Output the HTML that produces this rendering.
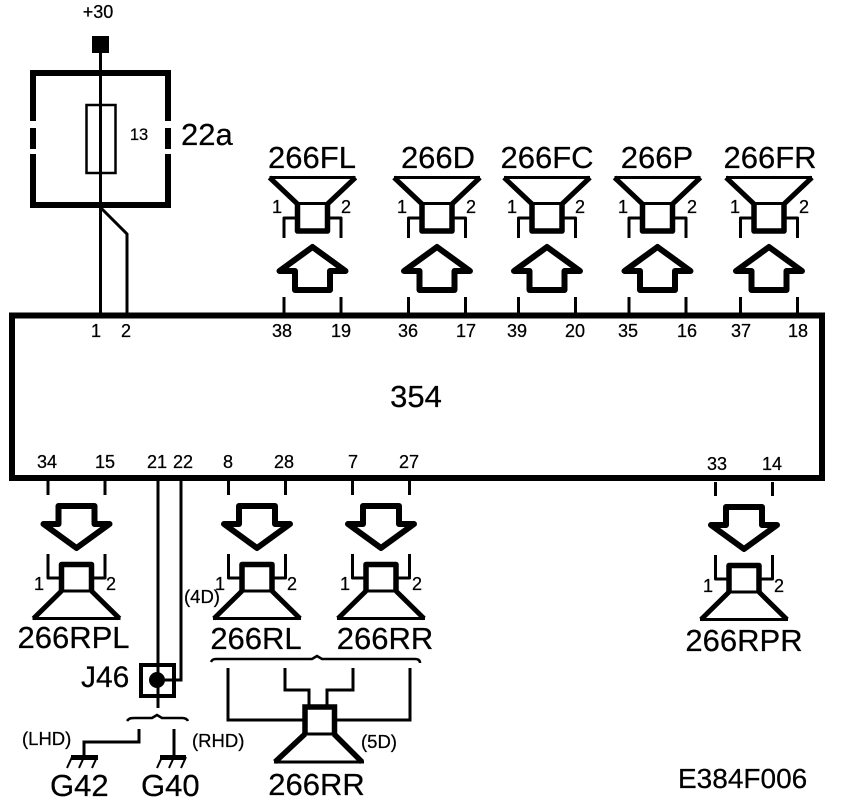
<!DOCTYPE html>
<html><head><meta charset="utf-8"><style>
html,body{margin:0;padding:0;background:#fff}
svg{display:block}
text{font-family:"Liberation Sans",sans-serif;fill:#000;stroke:#000;stroke-width:.25px}
.b{font-size:31px}.s{font-size:18px}.m{font-size:18.500px}
</style></head><body>
<svg width="864" height="804" viewBox="0 0 864 804" xmlns="http://www.w3.org/2000/svg">
<defs>
<g id="up" fill="none" stroke="#000" stroke-linejoin="round">
<path d="M-43 177.500H43" stroke-width="3"/>
<path d="M-43 177.500L-15 204M43 177.500L15 204" stroke-width="5"/>
<path d="M-15 203.500H15" stroke-width="3"/>
<path d="M-15 203V231H15V203" stroke-width="5.500"/>
<path d="M-28.500 238V218H-15M28.500 238V218H15" stroke-width="3"/>
<path d="M0 247L-33 271H-17.500V290H17.500V271H33Z" stroke-width="6"/>
<path d="M-28.500 297V316M28.500 297V316" stroke-width="3"/>
</g>
<g id="dn" fill="none" stroke="#000" stroke-linejoin="round">
<path d="M-28.500 481V495M28.500 481V495" stroke-width="3"/>
<path d="M-18 506H18V524H33L0 548L-33 524H-18Z" stroke-width="6"/>
<path d="M-28.500 554V578H-15M28.500 554V578H15" stroke-width="3"/>
<path d="M-15 591L-43 618.500M15 591L43 618.500" stroke-width="5"/>
<path d="M-44 618.500H44M-15 591H15" stroke-width="3"/>
<path d="M-15 592V564.500H15V592" stroke-width="5.500"/>
</g>
</defs>
<rect width="864" height="804" fill="#fff"/>

<!-- fuse block -->
<rect x="92" y="36" width="17" height="17" fill="#000"/>
<path d="M33 121V73H168V121M33 154V205H168V154M33 128V149M168 128V149" fill="none" stroke="#000" stroke-width="6"/>
<rect x="86.500" y="105" width="29" height="68" fill="none" stroke="#000" stroke-width="2.500"/>
<path d="M100.500 50V316M101 208L127 234V316" fill="none" stroke="#000" stroke-width="3"/>
<text x="98" y="18" text-anchor="middle" class="s">+30</text>
<text x="139" y="140" text-anchor="middle" style="font-size:16.500px">13</text>
<text x="181" y="145" class="b">22a</text>

<!-- main box -->
<rect x="12" y="315.500" width="810" height="162.500" fill="none" stroke="#000" stroke-width="6"/>
<text x="416" y="407" text-anchor="middle" class="b">354</text>

<!-- top speakers -->
<use href="#up" x="312.500"/><use href="#up" x="437"/><use href="#up" x="547"/><use href="#up" x="657.500"/><use href="#up" x="769"/>
<text x="312" y="168" text-anchor="middle" class="b">266FL</text>
<text x="438" y="168" text-anchor="middle" class="b">266D</text>
<text x="547" y="168" text-anchor="middle" class="b">266FC</text>
<text x="657" y="168" text-anchor="middle" class="b">266P</text>
<text x="770" y="168" text-anchor="middle" class="b">266FR</text>
<g text-anchor="middle">
<text x="277" y="213" class="s">1</text><text x="346" y="213" class="s">2</text>
<text x="402" y="213" class="s">1</text><text x="471" y="213" class="s">2</text>
<text x="512" y="213" class="s">1</text><text x="580" y="213" class="s">2</text>
<text x="623" y="213" class="s">1</text><text x="692" y="213" class="s">2</text>
<text x="735" y="213" class="s">1</text><text x="804" y="213" class="s">2</text>
<text x="282" y="337" class="s">38</text><text x="341" y="337" class="s">19</text>
<text x="408" y="337" class="s">36</text><text x="466" y="337" class="s">17</text>
<text x="517" y="337" class="s">39</text><text x="575" y="337" class="s">20</text>
<text x="628" y="337" class="s">35</text><text x="687" y="337" class="s">16</text>
<text x="741" y="337" class="s">37</text><text x="798" y="337" class="s">18</text>
<text x="96" y="337" class="s">1</text><text x="126" y="337" class="s">2</text>
<text x="47" y="468" class="s">34</text><text x="105" y="468" class="s">15</text>
<text x="157" y="468" class="s">21</text><text x="183" y="468" class="s">22</text>
<text x="228" y="468" class="s">8</text><text x="284" y="468" class="s">28</text>
<text x="353" y="468" class="s">7</text><text x="409" y="468" class="s">27</text>
<text x="717" y="470" class="s">33</text><text x="772" y="470" class="s">14</text>
<text x="39" y="590" class="s">1</text><text x="111" y="590" class="s">2</text>
<text x="220" y="590" class="s">1</text><text x="292" y="590" class="s">2</text>
<text x="345" y="590" class="s">1</text><text x="417" y="590" class="s">2</text>
<text x="708" y="592" class="s">1</text><text x="779" y="592" class="s">2</text>
</g>

<!-- bottom speakers -->
<use href="#dn" x="76.500"/><use href="#dn" x="257"/><use href="#dn" x="381"/><use href="#dn" transform="translate(744 1)"/>
<text x="73.500" y="648" text-anchor="middle" class="b">266RPL</text>
<text x="256" y="649" text-anchor="middle" class="b">266RL</text>
<text x="385" y="649" text-anchor="middle" class="b">266RR</text>
<text x="744" y="651" text-anchor="middle" class="b">266RPR</text>

<!-- J46 -->
<path d="M158 479V708M181 479V680H157" fill="none" stroke="#000" stroke-width="3"/>
<rect x="141" y="665" width="33" height="31" fill="none" stroke="#000" stroke-width="4"/>
<circle cx="157" cy="680" r="8" fill="#000"/>
<text x="81" y="687" style="font-size:30px">J46</text>
<text x="184" y="603" class="m">(4D)</text>

<!-- ground braces -->
<path d="M127 721C129 718 131 718 135 718H152L157 715L162 718H182C185 718 187 719 188 721" fill="none" stroke="#000" stroke-width="2.500"/>
<path d="M139 729V742H84V756M174 729V756" fill="none" stroke="#000" stroke-width="3"/>
<path d="M71 757.500H98M160 757.500H186" stroke="#000" stroke-width="5"/>
<path d="M72 757L67 768M84 757L79 768M97 757L92 768M162 757L157 768M174 757L169 768M186 757L181 768" stroke="#000" stroke-width="2"/>
<text x="22" y="745" class="m">(LHD)</text>
<text x="192" y="747" class="m">(RHD)</text>
<text x="50" y="796" class="b">G42</text>
<text x="141" y="796" class="b">G40</text>

<!-- rear 5D -->
<path d="M211 662C212 660 213 659 216 659H312L317 656L322 659H415C418 659 420 660 420 663" fill="none" stroke="#000" stroke-width="2.500"/>
<path d="M285 668V690H309V706M353 668V690H327V706M228 668V720H304M410 668V720H335" fill="none" stroke="#000" stroke-width="3"/>
<path d="M305 734L275 762M334 734L362 762" fill="none" stroke="#000" stroke-width="5.500"/>
<path d="M274 762H364M305 734H335" stroke="#000" stroke-width="3"/>
<path d="M305 735V707H334.500V735" fill="none" stroke="#000" stroke-width="5.500"/>
<text x="361" y="748" class="m">(5D)</text>
<text x="316.500" y="795" text-anchor="middle" class="b">266RR</text>

<text x="678" y="788" style="font-size:28px">E384F006</text>
</svg>
</body></html>
